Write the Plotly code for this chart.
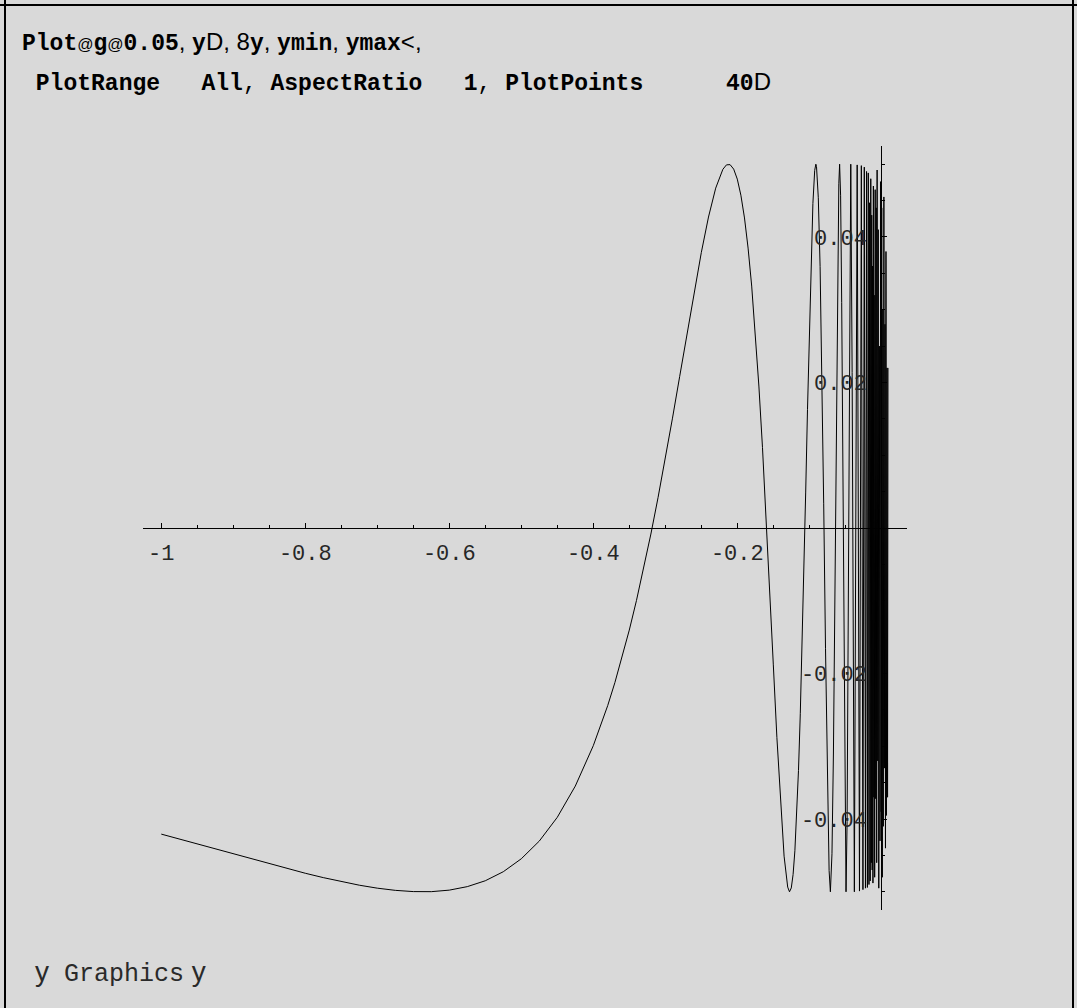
import plotly.graph_objects as go

# Samples of g[0.05, y] over y in [-1, 0.01] (horizontal = y, vertical = g)
y_pts = [-1.0, -0.975, -0.95, -0.925, -0.9, -0.875, -0.85, -0.825, -0.8, -0.775,
         -0.75, -0.725, -0.7, -0.675, -0.65, -0.625, -0.6, -0.575, -0.55, -0.525,
         -0.5, -0.475, -0.45, -0.425, -0.4, -0.39, -0.38, -0.37, -0.36, -0.35,
         -0.34, -0.33, -0.32, -0.31, -0.3, -0.29, -0.28, -0.27, -0.26, -0.25,
         -0.24, -0.23, -0.22, -0.215, -0.21, -0.205, -0.2, -0.195, -0.19, -0.185,
         -0.18, -0.175, -0.17, -0.165, -0.16, -0.155, -0.15, -0.145, -0.14, -0.135,
         -0.13, -0.1275, -0.125, -0.1225, -0.12, -0.1175, -0.115, -0.1125, -0.11, -0.1075,
         -0.105, -0.1025, -0.1, -0.0975, -0.095, -0.0925, -0.0909, -0.09, -0.0875, -0.085,
         -0.0825, -0.08, -0.0775, -0.075, -0.0725, -0.0707, -0.0685, -0.0665, -0.065, -0.0635,
         -0.062, -0.0605, -0.059, -0.0579, -0.0565, -0.055, -0.0535, -0.052, -0.0505, -0.049,
         -0.0475, -0.046, -0.0445, -0.0424, -0.0405, -0.039]
g_pts = [-0.04207, -0.04275, -0.04344, -0.04412, -0.04481, -0.04549, -0.04616, -0.04682, -0.04745, -0.04805,
         -0.04860, -0.04909, -0.04950, -0.04980, -0.04997, -0.04998, -0.04977, -0.04929, -0.04848, -0.04724,
         -0.04546, -0.04303, -0.03976, -0.03547, -0.02992, -0.02730, -0.02441, -0.02125, -0.01779, -0.01403,
         -0.00995, -0.00555, -0.00083, 0.00421, 0.00953, 0.01510, 0.02084, 0.02665, 0.03238, 0.03784,
         0.04274, 0.04671, 0.04930, 0.04991, 0.04994, 0.04932, 0.04795, 0.04574, 0.04261, 0.03847,
         0.03325, 0.02694, 0.01951, 0.01104, 0.00166, -0.00838, -0.01871, -0.02878, -0.03788, -0.04510,
         -0.04935, -0.05000, -0.04947, -0.04763, -0.04436, -0.03960, -0.03331, -0.02553, -0.01639, -0.00611,
         0.00494, 0.01626, 0.02720, 0.03695, 0.04460, 0.04915, 0.05000, 0.04967, 0.04539, 0.03593,
         0.02153, 0.00332, -0.01653, -0.03470, -0.04707, -0.05000, -0.04477, -0.03106, -0.01589, 0.00200,
         0.02044, 0.03659, 0.04731, 0.05000, 0.04565, 0.03096, 0.00787, -0.01860, -0.04074, -0.05000,
         -0.04033, -0.01247, 0.02312, 0.05000, 0.02136, -0.02433]

# Turning points of the fast oscillation close to y = 0
y_dense = [-0.0374, -0.0335, -0.0303, -0.0277, -0.0255, -0.0236, -0.0220, -0.0205, -0.0193, -0.0181,
           -0.0171, -0.0162, -0.0154, -0.0146, -0.0139, -0.0133, -0.0127, -0.0121, -0.0116, -0.0110,
           -0.0104, -0.0099, -0.0092, -0.0085, -0.0078, -0.0071, -0.0064, -0.0058, -0.0050, -0.0042,
           -0.0035, -0.0027, -0.0018, -0.0010, -0.0002, 0.0006, 0.0014, 0.0021, 0.0028, 0.0036,
           0.0043, 0.0051, 0.0058, 0.0065, 0.0072, 0.0080, 0.0087, 0.0093]
g_dense = [-0.0500, 0.0499, -0.0499, 0.0498, -0.0497, 0.0496, -0.0495, 0.0490, -0.0494, 0.0488,
           -0.0490, 0.0447, -0.0485, 0.0480, -0.0460, 0.0430, -0.0470, 0.0360, -0.0488, 0.0470,
           -0.0370, 0.0320, -0.0480, 0.0465, -0.0372, 0.0440, -0.0460, 0.0492, -0.0320, 0.0410,
           -0.0495, 0.0250, -0.0430, 0.0476, -0.0390, 0.0440, -0.0480, 0.0300, -0.0410, 0.0455,
           -0.0330, 0.0280, -0.0440, 0.0380, -0.0395, 0.0220, -0.0370, 0.0220]

x_tick_vals = [-1, -0.8, -0.6, -0.4, -0.2]
x_tick_text = ["-1", "-0.8", "-0.6", "-0.4", "-0.2"]
g_tick_vals = [-0.04, -0.02, 0.02, 0.04]
g_tick_text = ["-0.04", "-0.02", "0.02", "0.04"]

W, H = 1077, 1008
BG = "#d9d9d9"
MONO = "Liberation Mono"
SANS = "Liberation Sans"

fig = go.Figure()
fig.add_trace(go.Scatter(
    x=y_pts + y_dense, y=g_pts + g_dense,
    mode="lines", line=dict(color="black", width=1),
    hoverinfo="skip", showlegend=False,
))

# pixel geometry of the plot box
px_left, px_right = 143, 907
px_top, px_bottom = 146, 910
x_range = [-1.0254, 0.0357]
g_range = [-0.0525, 0.0525]
axis_row = 528      # pixel row of g = 0
axis_col = 881.3    # pixel column of y = 0

tick_font = dict(family=MONO, size=22, color="#262626")

fig.update_layout(
    width=W, height=H,
    margin=dict(l=0, r=0, t=0, b=0),
    paper_bgcolor=BG, plot_bgcolor=BG,
    showlegend=False,
    xaxis=dict(
        domain=[px_left / W, px_right / W], range=x_range,
        anchor="free", position=1 - axis_row / H,
        showgrid=False, zeroline=False,
        showline=True, linecolor="black", linewidth=1,
        tickmode="array", tickvals=x_tick_vals, ticktext=x_tick_text,
        ticks="inside", ticklen=5, tickcolor="black", tickwidth=1,
        minor=dict(tickmode="linear", tick0=0, dtick=0.05, ticks="inside",
                   ticklen=3, tickcolor="black", tickwidth=1, showgrid=False),
        tickfont=tick_font,
        ticklabelstandoff=5,
    ),
    yaxis=dict(
        domain=[1 - px_bottom / H, 1 - px_top / H], range=g_range,
        anchor="free", position=axis_col / W,
        showgrid=False, zeroline=False,
        showline=True, linecolor="black", linewidth=1,
        tickmode="array", tickvals=g_tick_vals, ticktext=g_tick_text,
        ticks="inside", ticklen=5, tickcolor="black", tickwidth=1,
        minor=dict(tickmode="linear", tick0=0, dtick=0.005, ticks="inside",
                   ticklen=3, tickcolor="black", tickwidth=1, showgrid=False),
        tickfont=tick_font,
        ticklabelstandoff=10,
    ),
)


def bold(s):
    return f"<b>{s}</b>"


def thin(s, size=24):
    return f"<span style='font-family:{SANS};font-size:{size}px'>{s}</span>"


NB = "\u00a0"
line1 = (bold("Plot") + thin("@", 16) + bold("g") + thin("@", 16) + bold("0.05") + thin(", ")
         + bold("y") + thin("D, 8") + bold("y") + thin(", ") + bold("ymin")
         + thin(", ") + bold("ymax") + thin("<,"))
line2 = (NB + bold("PlotRange") + NB * 3 + bold("All") + "," + NB + bold("AspectRatio")
         + NB * 3 + bold("1") + "," + NB + bold("PlotPoints") + NB * 6 + bold("40")
         + thin("D"))
footer = (thin("y", 28) + NB + "Graphics" + thin(NB + "y", 28))

for txt, px_x, px_y, size, color in [(line1, 20, 43, 23, "black"),
                                     (line2, 20, 82, 23, "black"),
                                     (footer, 33, 972, 25, "#2a2a2a")]:
    fig.add_annotation(
        text=txt, xref="paper", yref="paper", x=px_x / W, y=1 - px_y / H,
        xanchor="left", yanchor="middle", showarrow=False,
        font=dict(family=MONO, size=size, color=color),
    )

# notebook cell frame
frame = [(0, 5, W, 5), (5, 0, 5, H), (W - 4, 0, W - 4, H)]
for x0, y0, x1, y1 in frame:
    fig.add_shape(type="line", xref="paper", yref="paper",
                  x0=x0 / W, y0=1 - y0 / H, x1=x1 / W, y1=1 - y1 / H,
                  line=dict(color="black", width=2))

fig.write_html("out.html")
